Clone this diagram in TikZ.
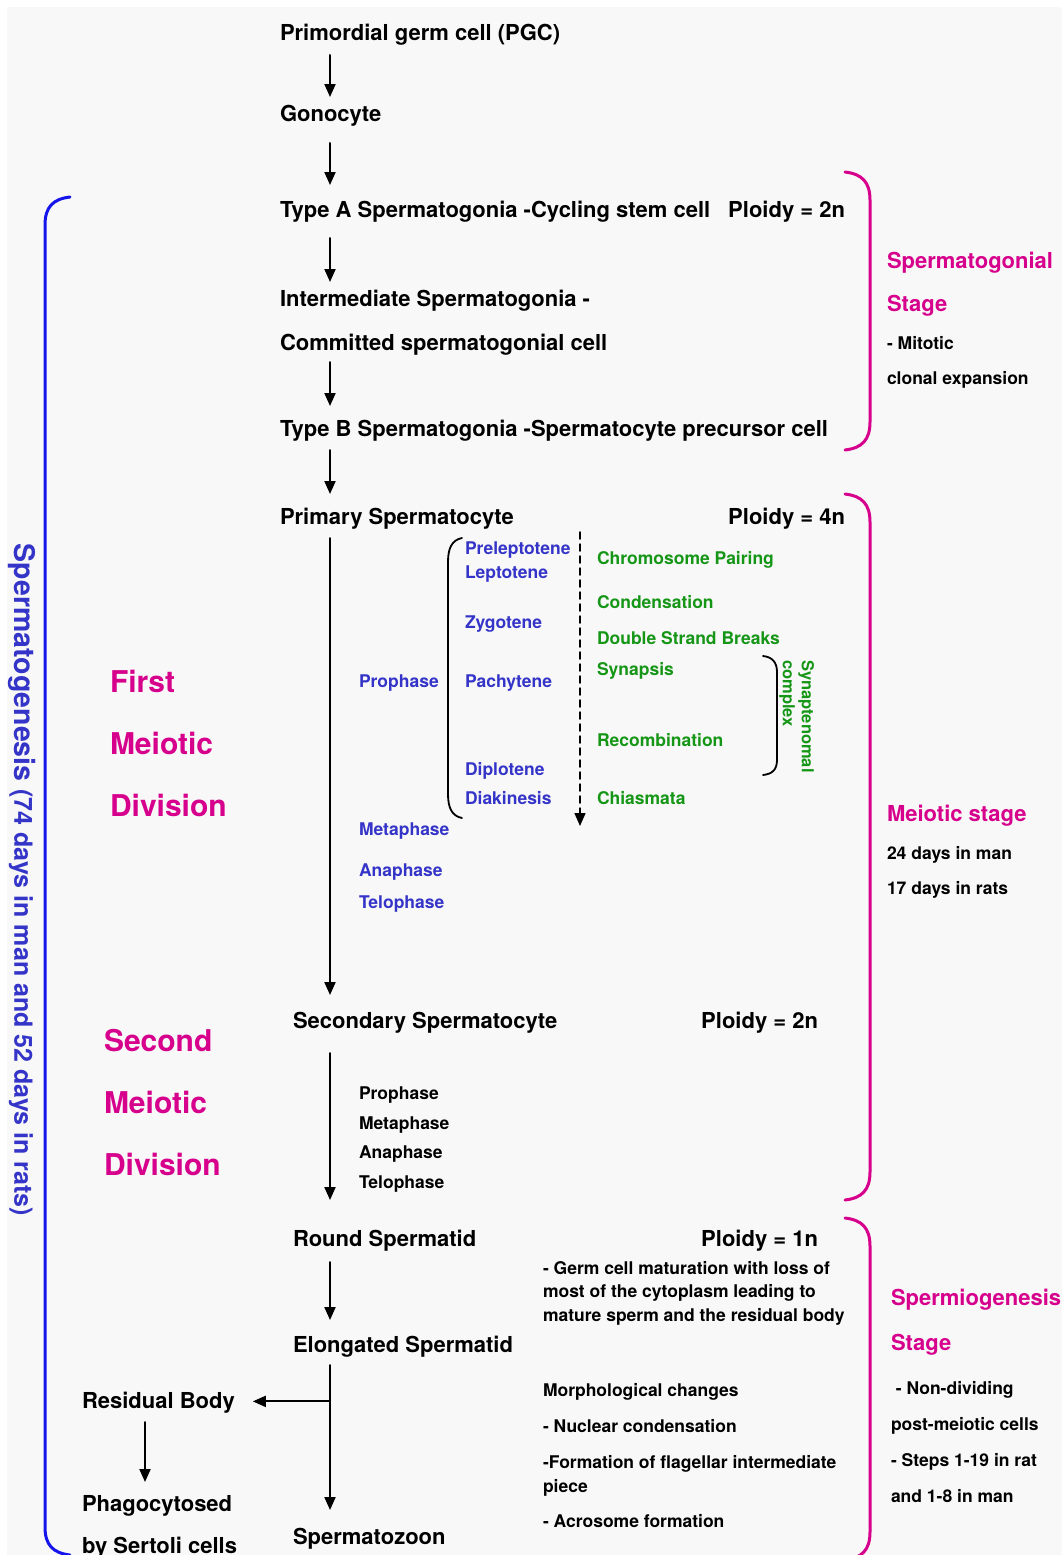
\documentclass[tikz,border=0pt]{standalone}
\usepackage{fontspec}
\setmainfont{TeX Gyre Heros}
\usetikzlibrary{arrows.meta}

\begin{document}
\begin{tikzpicture}[x=1pt,y=-1pt,line cap=round,
  cell/.style={inner sep=0, outer sep=0, anchor=base west, font=\fontsize{22pt}{22pt}\selectfont\bfseries},
  ploidy/.style={cell, anchor=base east},
  small/.style={cell, font=\fontsize{17.5pt}{17.5pt}\selectfont\bfseries},
  phase/.style={small, text=phaseblue},
  event/.style={small, text=eventgreen},
  division/.style={cell, text=stagemag, font=\fontsize{30pt}{30pt}\selectfont\bfseries},
  stage/.style={cell, text=stagemag},
  flow/.style={line width=2pt, -{Triangle[length=13pt,width=11pt]}},
  stagebrace/.style={line width=3pt, stagemag},
  paren/.style={line width=1.8pt}]
				\definecolor{stagemag}{RGB}{214, 0, 140}
				\definecolor{phaseblue}{RGB}{52, 52, 200}
				\definecolor{bracketblue}{RGB}{20, 20, 235}
				\definecolor{eventgreen}{RGB}{22, 150, 22}
				\definecolor{paper}{RGB}{248, 248, 248}
				\useasboundingbox (0,0) rectangle (1062,1555);
				\clip (0,0) rectangle (1062,1555);
				\fill [white] (0,0) rectangle (1062,1555);
				\fill [paper] (7,7) rectangle (1062,1555);
				\coordinate (sp) at (330,0);
				\coordinate (rb) at (145,0);
				% main line of cells
				\node[cell] (pgc) at (280,41) {Primordial germ cell (PGC)};
				\node[cell] (gono) at (280,121) {Gonocyte};
				\node[cell] (typea) at (280,217) {Type A Spermatogonia -Cycling stem cell};
				\node[ploidy] (plA) at (845,217) {Ploidy = 2n};
				\node[cell] (inter) at (280,306) {Intermediate Spermatogonia -};
				\node[cell] (commit) at (280,350) {Committed spermatogonial cell};
				\node[cell] (typeb) at (280,436) {Type B Spermatogonia -Spermatocyte precursor cell};
				\node[cell] (prim) at (280,524) {Primary Spermatocyte};
				\node[ploidy] (plB) at (845,524) {Ploidy = 4n};
				\node[cell] (secd) at (293,1028) {Secondary Spermatocyte};
				\node[ploidy] (plC) at (818,1028) {Ploidy = 2n};
				\node[cell] (round) at (293,1246) {Round Spermatid};
				\node[ploidy] (plD) at (818,1246) {Ploidy = 1n};
				\node[cell] (elong) at (293,1352) {Elongated Spermatid};
				\node[cell] (zoon) at (293,1544) {Spermatozoon};
				\node[cell] (resid) at (82,1408) {Residual Body};
				\node[cell] (phago) at (82,1511) {Phagocytosed};
				\node[cell] (sertoli) at (82,1553) {by Sertoli cells};
				\draw[flow] ([yshift=-14]pgc.base -| sp) -- ([yshift=24]gono.base -| sp);
				\draw[flow] ([yshift=-22]gono.base -| sp) -- ([yshift=32]typea.base -| sp);
				\draw[flow] ([yshift=-21]typea.base -| sp) -- ([yshift=24]inter.base -| sp);
				\draw[flow] ([yshift=-12]commit.base -| sp) -- ([yshift=30]typeb.base -| sp);
				\draw[flow] ([yshift=-14]typeb.base -| sp) -- ([yshift=30]prim.base -| sp);
				\draw[flow] ([yshift=-14]prim.base -| sp) -- ([yshift=33]secd.base -| sp);
				\draw[flow] ([yshift=-25]secd.base -| sp) -- ([yshift=46]round.base -| sp);
				\draw[flow] ([yshift=-16]round.base -| sp) -- ([yshift=32]elong.base -| sp);
				\draw[flow] ([yshift=-13]elong.base -| sp) -- ([yshift=34]zoon.base -| sp);
				\draw[flow] ([yshift=4]resid.mid -| sp) -- ([xshift=18,yshift=4]resid.mid east);
				\draw[flow] ([yshift=-14]resid.base -| rb) -- ([yshift=29]phago.base -| rb);
				% first meiotic division
				\node[division] (firstA) at (110,692) {First};
				\node[division] (firstB) at (110,754) {Meiotic};
				\node[division] (firstC) at (110,816) {Division};
				\node[phase] (proph) at (359,687) {Prophase};
				\node[phase] (metaph) at (359,835) {Metaphase};
				\node[phase] (anaph) at (359,876) {Anaphase};
				\node[phase] (teloph) at (359,908) {Telophase};
				\node[phase] (prelep) at (465,554) {Preleptotene};
				\node[phase] (lep) at (465,578) {Leptotene};
				\node[phase] (zyg) at (465,628) {Zygotene};
				\node[phase] (pach) at (465,687) {Pachytene};
				\node[phase] (dipl) at (465,775) {Diplotene};
				\node[phase] (diak) at (465,804) {Diakinesis};
				\draw[paren] (462,538) .. controls (452,540) and (448,548) .. (448,562) -- (448,794) .. controls (448,808) and (452,816) .. (462,818);
				\coordinate (dtop) at (580,532);
				\coordinate (dbot) at (580,826);
				\draw[flow, line width=1.5pt, dash pattern=on 7pt off 5pt] (dtop) -- (dbot);
				\node[event] (pair) at (597,564) {Chromosome Pairing};
				\node[event] (cond) at (597,608) {Condensation};
				\node[event] (dsb) at (597,644) {Double Strand Breaks};
				\node[event] (syn) at (597,675) {Synapsis};
				\node[event] (recomb) at (597,746) {Recombination};
				\node[event] (chiasm) at (597,804) {Chiasmata};
				\draw[paren] (763,656) .. controls (772,657) and (777,662) .. (777,672) -- (777,760) .. controls (777,770) and (772,774) .. (763,775);
				\node[event, anchor=north west, rotate=-90, align=left, font=\fontsize{16.5pt}{19pt}\selectfont\bfseries] (sc) at (814,660) {Synaptenomal\\complex};
				% second meiotic division
				\node[division] (secA) at (104,1051) {Second};
				\node[division] (secB) at (104,1113) {Meiotic};
				\node[division] (secC) at (104,1175) {Division};
				\node[small] (proph2) at (359,1099) {Prophase};
				\node[small] (metaph2) at (359,1129) {Metaphase};
				\node[small] (anaph2) at (359,1158) {Anaphase};
				\node[small] (teloph2) at (359,1188) {Telophase};
				% spermiogenesis notes
				\node[small] (matA) at (543,1274) {- Germ cell maturation with loss of};
				\node[small] (matB) at (543,1297) {most of the cytoplasm leading to};
				\node[small] (matC) at (543,1321) {mature sperm and the residual body};
				\node[small] (morph) at (543,1396) {Morphological changes};
				\node[small] (nucl) at (543,1432) {- Nuclear condensation};
				\node[small] (flagA) at (543,1468) {-Formation of flagellar intermediate};
				\node[small] (flagB) at (543,1492) {piece};
				\node[small] (acro) at (543,1527) {- Acrosome formation};
				% stage brackets
				\draw[stagebrace] (845,172) .. controls (862,174) and (870,182) .. (870,200) -- (870,422) .. controls (870,440) and (862,448) .. (845,450);
				\draw[stagebrace] (845,494) .. controls (862,496) and (870,504) .. (870,522) -- (870,1172) .. controls (870,1190) and (862,1198) .. (845,1200);
				\draw[stagebrace] (845,1218) .. controls (862,1220) and (870,1228) .. (870,1246) -- (870,1532) .. controls (870,1550) and (862,1558) .. (845,1560);
				\node[stage] (sgA) at (887,268) {Spermatogonial};
				\node[stage] (sgB) at (887,311) {Stage};
				\node[small] (sgC) at (887,349) {- Mitotic};
				\node[small] (sgD) at (887,384) {clonal expansion};
				\node[stage] (msA) at (887,821) {Meiotic stage};
				\node[small] (msB) at (887,859) {24 days in man};
				\node[small] (msC) at (887,894) {17 days in rats};
				\node[stage] (spA) at (891,1305) {Spermiogenesis};
				\node[stage] (spB) at (891,1350) {Stage};
				\node[small] (spC) at (891,1394) {\ - Non-dividing};
				\node[small] (spD) at (891,1430) {post-meiotic cells};
				\node[small] (spE) at (891,1466) {- Steps 1-19 in rat};
				\node[small] (spF) at (891,1502) {and 1-8 in man};
				% whole process
				\draw[line width=3pt, bracketblue] (70,197) .. controls (53,199) and (45,207) .. (45,225) -- (45,1527) .. controls (45,1545) and (53,1553) .. (70,1555);
				\node[inner sep=0, rotate=-90, text=phaseblue, font=\bfseries] (whole) at (22,880) {\fontsize{28.5pt}{28.5pt}\selectfont Spermatogenesis\hspace{8pt}\fontsize{25pt}{25pt}\selectfont(74 days in man and 52 days in rats)};
			\end{tikzpicture}
\end{document}
